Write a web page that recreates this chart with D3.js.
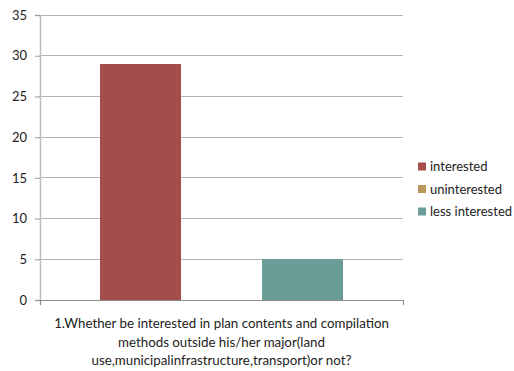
<!DOCTYPE html>
<html>
<head>
<meta charset="utf-8">
<script src="https://cdn.jsdelivr.net/npm/d3@7"></script>
<style>
  html, body { margin: 0; padding: 0; background: #fff; }
  svg { display: block; font-family: Lato, "Open Sans", sans-serif; }
</style>
</head>
<body>
<svg id="chart" width="514" height="371"></svg>
<script>
// Survey question (single category) and its answer counts
const categoryLines = [
  "1.Whether be interested in plan contents and compilation",
  "methods outside his/her major(land",
  "use,municipalinfrastructure,transport)or not?"
];
const seriesNames = ["interested", "uninterested", "less interested"];
const seriesValues = [29, 0, 5];
const seriesColors = ["#A44E4B", "#B7975E", "#6A9C98"];
const yTicks = [0, 5, 10, 15, 20, 25, 30, 35];

const svg = d3.select("#chart");
const plot = { left: 40, right: 403, top: 15, bottom: 300 };

const y = d3.scaleLinear().domain([0, 35]).range([plot.bottom, plot.top]);

// Outer band for the one category, inner band for the three series
const x0 = d3.scaleBand().domain(["q1"]).range([plot.left, plot.right]).paddingInner(0).paddingOuter(0);
const x1 = d3.scaleBand().domain(seriesNames)
  .range([x0("q1") + 60, x0("q1") + x0.bandwidth() - 60]).padding(0);

// Horizontal gridlines
svg.append("g")
  .selectAll("line")
  .data(yTicks.filter(t => t > 0))
  .join("line")
  .attr("x1", plot.left).attr("x2", plot.right)
  .attr("y1", d => y(d)).attr("y2", d => y(d))
  .attr("stroke", "#b3b3b3").attr("stroke-width", 1)
  .attr("shape-rendering", "crispEdges");

// Bars
svg.append("g")
  .selectAll("rect")
  .data(seriesNames.map((n, i) => ({ name: n, value: seriesValues[i], color: seriesColors[i] })))
  .join("rect")
  .attr("x", d => x1(d.name))
  .attr("width", x1.bandwidth())
  .attr("y", d => y(d.value))
  .attr("height", d => y(0) - y(d.value))
  .attr("fill", d => d.color)
  .attr("shape-rendering", "crispEdges");

// Y axis
const yAxis = d3.axisLeft(y).tickValues(yTicks).tickSize(5).tickPadding(8);
const gy = svg.append("g").attr("transform", `translate(${plot.left},0)`).call(yAxis);
gy.select(".domain").attr("stroke", "#bdbdbd").attr("stroke-width", 1.5);
gy.selectAll(".tick line").attr("stroke", "#9a9a9a");
gy.selectAll(".tick text").attr("font-size", 13).attr("fill", "#222")
  .attr("font-family", "Lato, 'Open Sans', sans-serif");

// X axis baseline with end ticks
const xAxis = d3.axisBottom(x0).tickValues([]).tickSizeOuter(5);
const gx = svg.append("g").attr("transform", `translate(0,${plot.bottom})`).call(xAxis);
gx.select(".domain").attr("stroke", "#8c8c8c").attr("stroke-width", 1.2);

// Category label, wrapped in three centered lines
svg.append("text")
  .attr("x", x0("q1") + x0.bandwidth() / 2)
  .attr("y", 328)
  .attr("text-anchor", "middle")
  .attr("font-size", 13.3)
  .attr("fill", "#222")
  .selectAll("tspan")
  .data(categoryLines)
  .join("tspan")
  .attr("x", x0("q1") + x0.bandwidth() / 2)
  .attr("dy", (d, i) => i === 0 ? 0 : 18.5)
  .text(d => d);

// Legend
const legend = svg.append("g").attr("transform", "translate(418,162.5)");
const items = legend.selectAll("g")
  .data(seriesNames)
  .join("g")
  .attr("transform", (d, i) => `translate(0,${i * 22.5})`);
items.append("rect")
  .attr("width", 8).attr("height", 8)
  .attr("fill", (d, i) => seriesColors[i]);
items.append("text")
  .attr("x", 12).attr("y", 8.5)
  .attr("font-size", 13)
  .attr("fill", "#222")
  .text(d => d);
</script>
</body>
</html>
